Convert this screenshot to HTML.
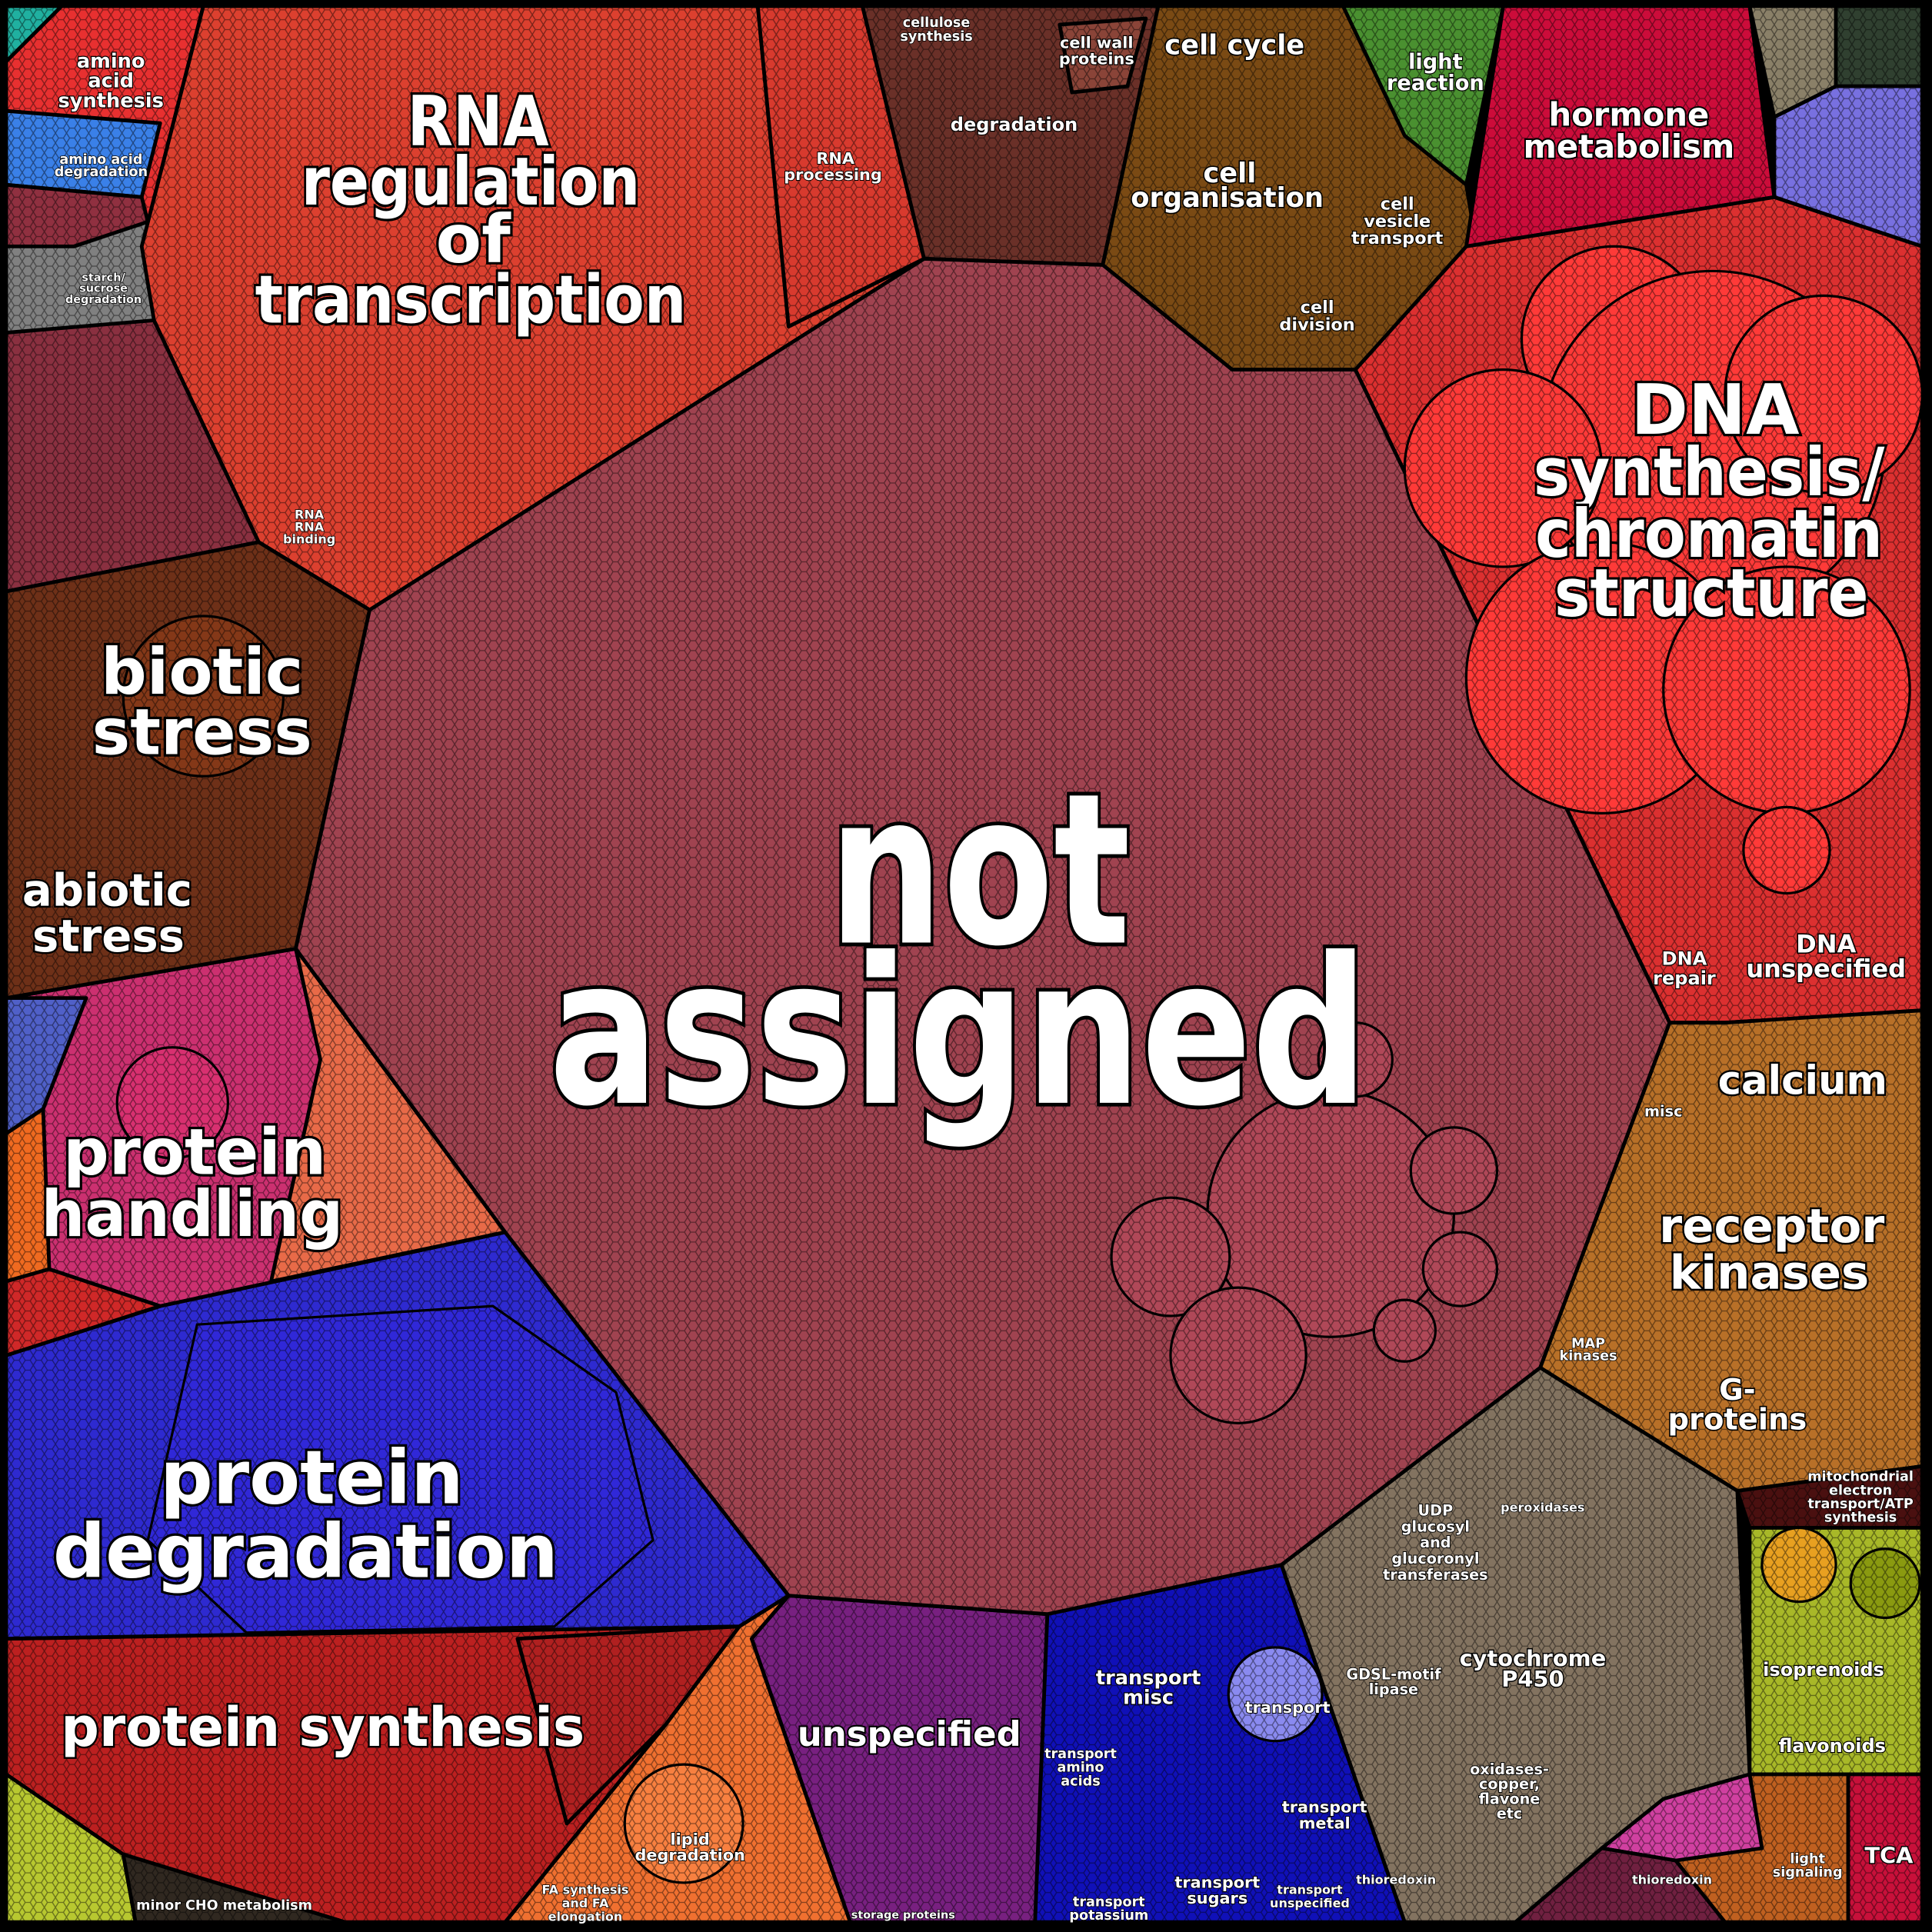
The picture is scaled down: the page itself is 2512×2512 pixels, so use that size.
<!DOCTYPE html>
<html><head><meta charset="utf-8"><style>
html,body{margin:0;padding:0;background:#000;}
svg{display:block;}
text{font-family:"DejaVu Sans","Liberation Sans",sans-serif;font-weight:bold;fill:#fff;stroke:#000;paint-order:stroke;text-anchor:middle;}
</style></head><body>
<svg width="2512" height="2512" viewBox="0 0 1568 1568" xmlns="http://www.w3.org/2000/svg">
<defs>
<pattern id="mesh" width="9" height="8" patternUnits="userSpaceOnUse">
<path d="M0,4 L2.5,0 L6.5,0 L9,4 L6.5,8 L2.5,8 Z" fill="none" stroke="#000" stroke-width="0.8" opacity="0.45"/>
</pattern>
</defs>
<rect width="1568" height="1568" fill="#000"/>
<g stroke="#000" stroke-width="3" stroke-linejoin="round">
<polygon points="5,5 165,5 115,200 5,200" fill="#e83030"/>
<polygon points="5,90 130,100 115,160 5,150" fill="#3a80e8"/>
<polygon points="5,150 115,160 120,180 60,200 5,200" fill="#903040"/>
<polygon points="5,200 60,200 120,180 125,260 5,275" fill="#808080"/>
<polygon points="5,270 125,260 210,440 5,480" fill="#8a3040"/>
<polygon points="5,5 50,5 5,50" fill="#20b0a0"/>
<polygon points="165,5 615,5 640,265 750,210 300,495 210,440 125,260 115,200" fill="#dc402f"/>
<polygon points="615,5 700,5 750,210 640,265" fill="#d83a2e"/>
<polygon points="700,5 940,5 895,215 750,210" fill="#6a3028"/>
<polygon points="860,20 930,15 915,70 870,75" fill="#8a4438"/>
<polygon points="940,5 1090,5 1190,150 1200,210 1100,300 1000,300 895,215" fill="#7a4a14"/>
<polygon points="1090,5 1220,5 1190,150 1140,110" fill="#4a9030"/>
<polygon points="1220,5 1420,5 1440,160 1190,200" fill="#cc0c3a"/>
<polygon points="1420,5 1490,5 1490,70 1440,95" fill="#8a8068"/>
<polygon points="1490,5 1560,5 1560,70 1490,70" fill="#304030"/>
<polygon points="1440,95 1490,70 1560,70 1560,200 1440,160" fill="#7870e0"/>
<polygon points="1190,200 1440,160 1560,200 1560,820 1400,830 1355,830 1100,300" fill="#dc3030"/>
<polygon points="1355,830 1400,830 1560,820 1560,1190 1410,1210 1250,1110" fill="#b87028"/>
<polygon points="1410,1210 1560,1190 1560,1240 1420,1240" fill="#4a1010"/>
<polygon points="1250,1110 1410,1210 1420,1440 1300,1500 1230,1560 1140,1560 1040,1270" fill="#837360"/>
<polygon points="1420,1240 1560,1240 1560,1440 1420,1440" fill="#a8b828"/>
<polygon points="1420,1440 1500,1440 1500,1560 1300,1560 1300,1500" fill="#c06020"/>
<polygon points="1300,1500 1350,1460 1420,1440 1430,1500 1360,1510" fill="#d040a0"/>
<polygon points="1500,1440 1560,1440 1560,1560 1500,1560" fill="#c8103a"/>
<polygon points="1300,1500 1360,1510 1400,1560 1230,1560" fill="#702040"/>
<polygon points="850,1310 1040,1270 1140,1560 840,1560" fill="#1010b8"/>
<polygon points="640,1295 850,1310 840,1560 690,1560 610,1330" fill="#782080"/>
<polygon points="600,1320 640,1295 610,1330 690,1560 410,1560 540,1400" fill="#f07030"/>
<polygon points="5,1330 600,1320 540,1400 410,1560 280,1560 100,1505 5,1440" fill="#bc2020"/>
<polygon points="420,1330 600,1320 540,1400 460,1480" fill="#b02020"/>
<polygon points="5,1440 100,1505 110,1560 5,1560" fill="#b8c830"/>
<polygon points="100,1505 280,1560 110,1560" fill="#302820"/>
<polygon points="5,1100 130,1060 410,1000 640,1295 600,1320 5,1330" fill="#2e2ad0"/>
<polygon points="5,810 240,770 410,1000 130,1060 5,1100" fill="#cc3070"/>
<polygon points="240,770 410,1000 220,1040 260,860" fill="#e86a48"/>
<polygon points="5,810 70,810 35,900 5,920" fill="#5060c8"/>
<polygon points="5,920 35,900 40,1030 5,1040" fill="#f06a20"/>
<polygon points="5,1040 40,1030 130,1060 5,1100" fill="#d02828"/>
<polygon points="5,480 210,440 300,495 240,770 5,810" fill="#6e3018"/>
<polygon points="300,495 750,210 895,215 1000,300 1100,300 1355,830 1250,1110 1040,1270 850,1310 640,1295 410,1000 240,770" fill="#a04350"/>
</g>
<g stroke="#000" stroke-width="2">
<circle cx="1310" cy="275" r="75" fill="#ff3a38"/>
<circle cx="1390" cy="360" r="140" fill="#ff3a38"/>
<circle cx="1220" cy="380" r="80" fill="#ff3a38"/>
<circle cx="1480" cy="320" r="80" fill="#ff3a38"/>
<circle cx="1300" cy="550" r="110" fill="#ff3a38"/>
<circle cx="1450" cy="560" r="100" fill="#ff3a38"/>
<circle cx="1450" cy="690" r="35" fill="#ff3a38"/>
<circle cx="1080" cy="985" r="100" fill="#b04858"/>
<circle cx="950" cy="1020" r="48" fill="#b04858"/>
<circle cx="1005" cy="1100" r="55" fill="#b04858"/>
<circle cx="1180" cy="950" r="35" fill="#b04858"/>
<circle cx="1185" cy="1030" r="30" fill="#b04858"/>
<circle cx="1140" cy="1080" r="25" fill="#b04858"/>
<circle cx="1100" cy="860" r="30" fill="#b04858"/>
<circle cx="165" cy="565" r="65" fill="#843818"/>
<circle cx="140" cy="895" r="45" fill="#d83070"/>
<path d="M160,1075 L400,1060 L500,1130 L530,1250 L450,1320 L200,1325 L120,1250 Z" fill="#3028d8"/>
<circle cx="1035" cy="1375" r="38" fill="#8a8af0"/>
<circle cx="555" cy="1480" r="48" fill="#f88040"/>
<circle cx="1460" cy="1270" r="30" fill="#e8a020"/>
<circle cx="1530" cy="1285" r="28" fill="#8a9a10"/>
</g>
<rect width="1568" height="1568" fill="url(#mesh)"/>
<rect x="2" y="2" width="1564" height="1564" fill="none" stroke="#000" stroke-width="6"/>
<g stroke-width="3">
<text x="795" y="765" font-size="170" stroke-width="6" textLength="245" lengthAdjust="spacingAndGlyphs">not</text>
<text x="778" y="895" font-size="165" stroke-width="6" textLength="665" lengthAdjust="spacingAndGlyphs">assigned</text>
<text x="388" y="118" font-size="56" stroke-width="4" textLength="115" lengthAdjust="spacingAndGlyphs">RNA</text>
<text x="382" y="166" font-size="54" stroke-width="4" textLength="275" lengthAdjust="spacingAndGlyphs">regulation</text>
<text x="384" y="213" font-size="54" stroke-width="4">of</text>
<text x="382" y="262" font-size="54" stroke-width="4" textLength="350" lengthAdjust="spacingAndGlyphs">transcription</text>
<text x="1392" y="352" font-size="56" stroke-width="4">DNA</text>
<text x="1387" y="402" font-size="54" stroke-width="4" textLength="285" lengthAdjust="spacingAndGlyphs">synthesis/</text>
<text x="1387" y="452" font-size="54" stroke-width="4" textLength="282" lengthAdjust="spacingAndGlyphs">chromatin</text>
<text x="1389" y="500" font-size="54" stroke-width="4" textLength="255" lengthAdjust="spacingAndGlyphs">structure</text>
<text x="164" y="563" font-size="52" stroke-width="4">biotic</text>
<text x="164" y="612" font-size="52" stroke-width="4">stress</text>
<text x="87" y="735" font-size="36" stroke-width="3">abiotic</text>
<text x="88" y="772" font-size="36" stroke-width="3">stress</text>
<text x="158" y="953" font-size="52" stroke-width="4">protein</text>
<text x="156" y="1003" font-size="52" stroke-width="4" textLength="245" lengthAdjust="spacingAndGlyphs">handling</text>
<text x="253" y="1220" font-size="60" stroke-width="4">protein</text>
<text x="248" y="1280" font-size="60" stroke-width="4" textLength="410" lengthAdjust="spacingAndGlyphs">degradation</text>
<text x="262" y="1417" font-size="44" stroke-width="3" textLength="425" lengthAdjust="spacingAndGlyphs">protein synthesis</text>
<text x="738" y="1417" font-size="28" stroke-width="2.5">unspecified</text>
<text x="1463" y="888" font-size="32" stroke-width="3">calcium</text>
<text x="1438" y="1008" font-size="38" stroke-width="3">receptor</text>
<text x="1436" y="1046" font-size="38" stroke-width="3">kinases</text>
<text x="1410" y="1136" font-size="24" stroke-width="2">G-</text>
<text x="1410" y="1160" font-size="24" stroke-width="2">proteins</text>
<text x="1322" y="102" font-size="26" stroke-width="2.5">hormone</text>
<text x="1322" y="128" font-size="26" stroke-width="2.5">metabolism</text>
<text x="1002" y="44" font-size="22" stroke-width="2">cell cycle</text>
<text x="998" y="148" font-size="22" stroke-width="2">cell</text>
<text x="996" y="168" font-size="22" stroke-width="2">organisation</text>
<text x="1165" y="56" font-size="17" stroke-width="1.5">light</text>
<text x="1165" y="73" font-size="17" stroke-width="1.5">reaction</text>
<text x="1134" y="170" font-size="14" stroke-width="1.5">cell</text>
<text x="1134" y="184" font-size="14" stroke-width="1.5">vesicle</text>
<text x="1134" y="198" font-size="14" stroke-width="1.5">transport</text>
<text x="1069" y="254" font-size="14" stroke-width="1.5">cell</text>
<text x="1069" y="268" font-size="14" stroke-width="1.5">division</text>
<text x="823" y="106" font-size="15" stroke-width="1.5">degradation</text>
<text x="890" y="39" font-size="13" stroke-width="1.5">cell wall</text>
<text x="890" y="52" font-size="13" stroke-width="1.5">proteins</text>
<text x="760" y="22" font-size="11" stroke-width="1">cellulose</text>
<text x="760" y="33" font-size="11" stroke-width="1">synthesis</text>
<text x="678" y="133" font-size="13" stroke-width="1.2">RNA</text>
<text x="676" y="146" font-size="13" stroke-width="1.2">processing</text>
<text x="90" y="55" font-size="16" stroke-width="1.5">amino</text>
<text x="90" y="71" font-size="16" stroke-width="1.5">acid</text>
<text x="90" y="87" font-size="16" stroke-width="1.5">synthesis</text>
<text x="82" y="133" font-size="11" stroke-width="1">amino acid</text>
<text x="82" y="143" font-size="11" stroke-width="1">degradation</text>
<text x="84" y="228" font-size="9" stroke-width="1">starch/</text>
<text x="84" y="237" font-size="9" stroke-width="1">sucrose</text>
<text x="84" y="246" font-size="9" stroke-width="1">degradation</text>
<text x="1367" y="783" font-size="15" stroke-width="1.5">DNA</text>
<text x="1367" y="799" font-size="15" stroke-width="1.5">repair</text>
<text x="1482" y="773" font-size="20" stroke-width="2">DNA</text>
<text x="1482" y="793" font-size="20" stroke-width="2">unspecified</text>
<text x="1510" y="1202" font-size="11" stroke-width="1">mitochondrial</text>
<text x="1510" y="1213" font-size="11" stroke-width="1">electron</text>
<text x="1510" y="1224" font-size="11" stroke-width="1">transport/ATP</text>
<text x="1510" y="1235" font-size="11" stroke-width="1">synthesis</text>
<text x="1244" y="1352" font-size="18" stroke-width="1.8">cytochrome</text>
<text x="1244" y="1369" font-size="18" stroke-width="1.8">P450</text>
<text x="1165" y="1230" font-size="12" stroke-width="1.2">UDP</text>
<text x="1165" y="1243" font-size="12" stroke-width="1.2">glucosyl</text>
<text x="1165" y="1256" font-size="12" stroke-width="1.2">and</text>
<text x="1165" y="1269" font-size="12" stroke-width="1.2">glucoronyl</text>
<text x="1165" y="1282" font-size="12" stroke-width="1.2">transferases</text>
<text x="1131" y="1363" font-size="12" stroke-width="1.2">GDSL-motif</text>
<text x="1131" y="1375" font-size="12" stroke-width="1.2">lipase</text>
<text x="1225" y="1440" font-size="12" stroke-width="1.2">oxidases-</text>
<text x="1225" y="1452" font-size="12" stroke-width="1.2">copper,</text>
<text x="1225" y="1464" font-size="12" stroke-width="1.2">flavone</text>
<text x="1225" y="1476" font-size="12" stroke-width="1.2">etc</text>
<text x="1480" y="1360" font-size="15" stroke-width="1.5">isoprenoids</text>
<text x="1487" y="1422" font-size="15" stroke-width="1.5">flavonoids</text>
<text x="1533" y="1512" font-size="18" stroke-width="1.8">TCA</text>
<text x="1467" y="1512" font-size="11" stroke-width="1">light</text>
<text x="1467" y="1523" font-size="11" stroke-width="1">signaling</text>
<text x="932" y="1367" font-size="16" stroke-width="1.5">transport</text>
<text x="932" y="1383" font-size="16" stroke-width="1.5">misc</text>
<text x="1045" y="1390" font-size="13" stroke-width="1.2">transport</text>
<text x="1075" y="1471" font-size="13" stroke-width="1.2">transport</text>
<text x="1075" y="1484" font-size="13" stroke-width="1.2">metal</text>
<text x="988" y="1532" font-size="13" stroke-width="1.2">transport</text>
<text x="988" y="1545" font-size="13" stroke-width="1.2">sugars</text>
<text x="900" y="1547" font-size="11" stroke-width="1">transport</text>
<text x="900" y="1558" font-size="11" stroke-width="1">potassium</text>
<text x="877" y="1427" font-size="11" stroke-width="1">transport</text>
<text x="877" y="1438" font-size="11" stroke-width="1">amino</text>
<text x="877" y="1449" font-size="11" stroke-width="1">acids</text>
<text x="1063" y="1537" font-size="10" stroke-width="1">transport</text>
<text x="1063" y="1548" font-size="10" stroke-width="1">unspecified</text>
<text x="560" y="1497" font-size="13" stroke-width="1.2">lipid</text>
<text x="560" y="1510" font-size="13" stroke-width="1.2">degradation</text>
<text x="475" y="1537" font-size="10" stroke-width="1">FA synthesis</text>
<text x="475" y="1548" font-size="10" stroke-width="1">and FA</text>
<text x="475" y="1559" font-size="10" stroke-width="1">elongation</text>
<text x="182" y="1550" font-size="11" stroke-width="1">minor CHO metabolism</text>
<text x="733" y="1557" font-size="9" stroke-width="1">storage proteins</text>
<text x="1133" y="1529" font-size="10" stroke-width="1">thioredoxin</text>
<text x="1357" y="1529" font-size="10" stroke-width="1">thioredoxin</text>
<text x="1350" y="906" font-size="12" stroke-width="1.2">misc</text>
<text x="1289" y="1094" font-size="11" stroke-width="1">MAP</text>
<text x="1289" y="1104" font-size="11" stroke-width="1">kinases</text>
<text x="1252" y="1227" font-size="10" stroke-width="1">peroxidases</text>
<text x="251" y="421" font-size="10" stroke-width="1">RNA</text>
<text x="251" y="431" font-size="10" stroke-width="1">RNA</text>
<text x="251" y="441" font-size="10" stroke-width="1">binding</text>
</g>
</svg>
</body></html>
